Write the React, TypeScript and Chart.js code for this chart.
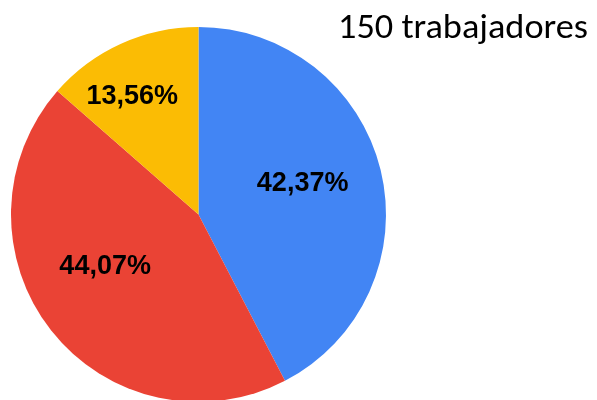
import React, { useEffect, useRef } from "react";
import { Chart, registerables } from "chart.js";

Chart.register(...registerables);

const categories = ["A", "B", "C"];
const values = [42.37, 44.07, 13.56];
const labelTexts = ["42,37%", "44,07%", "13,56%"];
const colors = ["#4285F4", "#EA4335", "#FBBC04"];
const labelRadius = [0.58, 0.57, 0.72];
const labelAngleShift = [-3, 9, -5];
const titleText = "150 trabajadores";

const labelPlugin = {
  id: "sliceLabels",
  afterDatasetsDraw(chart: any) {
    const ctx = chart.ctx;
    const meta = chart.getDatasetMeta(0);
    ctx.save();
    ctx.fillStyle = "#000";
    ctx.font = "bold 27px 'Liberation Sans', Arial, sans-serif";
    ctx.textAlign = "center";
    ctx.textBaseline = "middle";
    meta.data.forEach((arc: any, i: number) => {
      const { x, y, startAngle, endAngle, outerRadius } = arc.getProps(
        ["x", "y", "startAngle", "endAngle", "outerRadius"],
        true
      );
      const mid = (startAngle + endAngle) / 2 + (labelAngleShift[i] * Math.PI) / 180;
      const r = outerRadius * labelRadius[i];
      ctx.fillText(labelTexts[i], x + Math.cos(mid) * r, y + Math.sin(mid) * r);
    });
    ctx.restore();

    ctx.save();
    ctx.fillStyle = "#000";
    ctx.font = "34px Carlito, Lato, 'Open Sans', sans-serif";
    ctx.textAlign = "left";
    ctx.textBaseline = "alphabetic";
    const w = ctx.measureText(titleText).width;
    const target = 250;
    ctx.translate(338, 38);
    ctx.scale(target / w, 1);
    ctx.fillText(titleText, 0, 0);
    ctx.restore();
  },
};

export default function App() {
  const ref = useRef<HTMLCanvasElement | null>(null);
  useEffect(() => {
    if (!ref.current) return;
    const chart = new Chart(ref.current, {
      type: "pie",
      data: {
        labels: categories,
        datasets: [
          {
            data: values,
            backgroundColor: colors,
            borderWidth: 0,
          },
        ],
      },
      options: {
        responsive: false,
        animation: false,
        layout: { padding: { left: 11, right: 211, top: 27, bottom: 38 } },
        plugins: {
          legend: { display: false },
          tooltip: { enabled: false },
          title: { display: false },
        },
      },
      plugins: [labelPlugin],
    });
    return () => chart.destroy();
  }, []);
  return (
    <div
      style={{
        position: "fixed",
        left: 0,
        top: 0,
        width: 597,
        height: 400,
        overflow: "hidden",
        background: "#fff",
      }}
    >
      <canvas ref={ref} width={597} height={440} style={{ display: "block" }} />
    </div>
  );
}
